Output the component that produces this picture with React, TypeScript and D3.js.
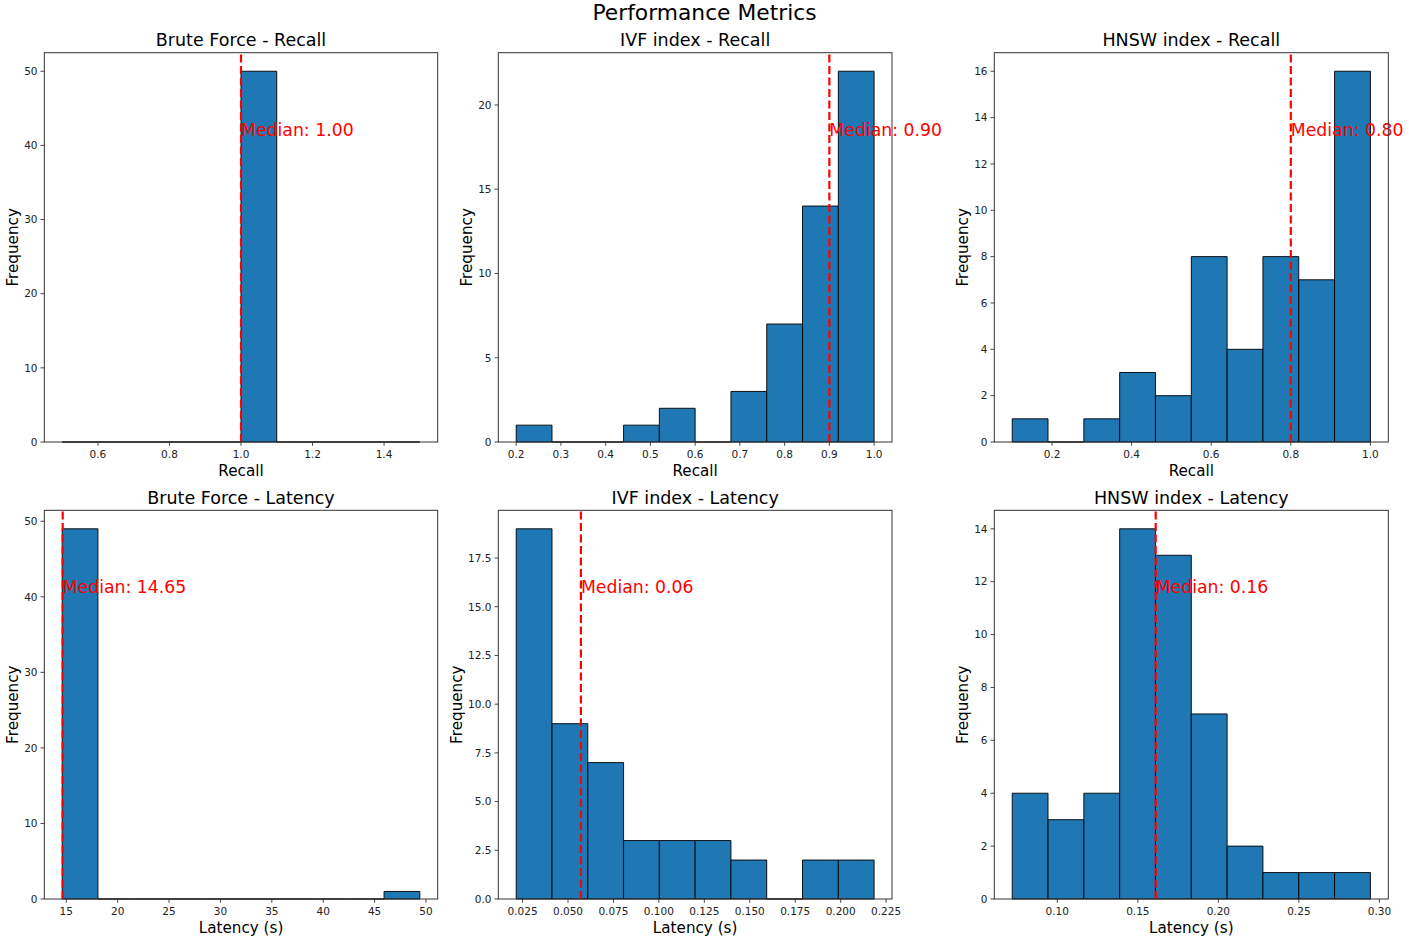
import React from "react";
import * as d3 from "d3";

// ---------- data ----------
const panelTitles = [
  "Brute Force - Recall",
  "IVF index - Recall",
  "HNSW index - Recall",
  "Brute Force - Latency",
  "IVF index - Latency",
  "HNSW index - Latency",
];
const xLabels = ["Recall", "Recall", "Recall", "Latency (s)", "Latency (s)", "Latency (s)"];

// histogram ranges (data min / max) and bin counts (10 bins each)
const bruteRecallRange = [0.5, 1.5];
const bruteRecallCounts = [0, 0, 0, 0, 0, 50, 0, 0, 0, 0];
const ivfRecallRange = [0.2, 1.0];
const ivfRecallCounts = [1, 0, 0, 1, 2, 0, 3, 7, 14, 22];
const hnswRecallRange = [0.1, 1.0];
const hnswRecallCounts = [1, 0, 1, 3, 2, 8, 4, 8, 7, 16];
const bruteLatencyRange = [14.6, 49.4];
const bruteLatencyCounts = [49, 0, 0, 0, 0, 0, 0, 0, 0, 1];
const ivfLatencyRange = [0.0215, 0.2184];
const ivfLatencyCounts = [19, 9, 7, 3, 3, 3, 2, 0, 2, 2];
const hnswLatencyRange = [0.072, 0.2944];
const hnswLatencyCounts = [4, 3, 4, 14, 13, 7, 2, 1, 1, 1];

const medians = [1.0, 0.9, 0.8, 14.65, 0.0571, 0.1611];
const medianLabels = ["Median: 1.00", "Median: 0.90", "Median: 0.80", "Median: 14.65", "Median: 0.06", "Median: 0.16"];

const xTicks = [
  [0.6, 0.8, 1.0, 1.2, 1.4],
  [0.2, 0.3, 0.4, 0.5, 0.6, 0.7, 0.8, 0.9, 1.0],
  [0.2, 0.4, 0.6, 0.8, 1.0],
  [15, 20, 25, 30, 35, 40, 45, 50],
  [0.025, 0.05, 0.075, 0.1, 0.125, 0.15, 0.175, 0.2, 0.225],
  [0.1, 0.15, 0.2, 0.25, 0.3],
];
const xTickFormats = [".1f", ".1f", ".1f", "d", ".3f", ".2f"];
const yTicks = [
  [0, 10, 20, 30, 40, 50],
  [0, 5, 10, 15, 20],
  [0, 2, 4, 6, 8, 10, 12, 14, 16],
  [0, 10, 20, 30, 40, 50],
  [0, 2.5, 5, 7.5, 10, 12.5, 15, 17.5],
  [0, 2, 4, 6, 8, 10, 12, 14],
];
const yTickFormats = ["d", "d", "d", "d", ".1f", "d"];

const ranges = [bruteRecallRange, ivfRecallRange, hnswRecallRange, bruteLatencyRange, ivfLatencyRange, hnswLatencyRange];
const counts = [bruteRecallCounts, ivfRecallCounts, hnswRecallCounts, bruteLatencyCounts, ivfLatencyCounts, hnswLatencyCounts];

// ---------- layout ----------
const W = 1409;
const H = 940;
const colLefts = [44.3, 498.3, 994.3];
const colRights = [437.7, 892, 1388.3];
const rowTops = [52.7, 510.3];
const rowBottoms = [442, 899];
const FONT = "DejaVu Sans, sans-serif";
const BAR = "#1f77b4";

function textWidth(s: string, size: number) {
  let w = 0;
  for (const ch of s) w += ch === "." ? 0.318 : 0.636;
  return w * size;
}

function Panel({ i }: { i: number }) {
  const col = i % 3;
  const row = Math.floor(i / 3);
  const left = colLefts[col];
  const right = colRights[col];
  const top = rowTops[row];
  const bottom = rowBottoms[row];
  const [mn, mx] = ranges[i];
  const c = counts[i];
  const nb = c.length;
  const edges = d3.range(nb + 1).map((k) => mn + ((mx - mn) * k) / nb);
  const pad = (mx - mn) * 0.05;
  const x = d3.scaleLinear().domain([mn - pad, mx + pad]).range([left, right]);
  const ymax = (d3.max(c) as number) * 1.05;
  const y = d3.scaleLinear().domain([0, ymax]).range([bottom, top]);
  const xf = d3.format(xTickFormats[i]);
  const yf = d3.format(yTickFormats[i]);
  const tickLen = 3.8;
  const tickFs = 10.5;
  const maxYW = d3.max(yTicks[i].map((t) => textWidth(yf(t), tickFs))) as number;
  const yLabelX = left - tickLen - 3 - maxYW - 4.5 - 7.5;
  const midY = (top + bottom) / 2;
  const mx0 = x(medians[i]);
  const textBaseline = bottom - 0.787 * (bottom - top);

  return (
    <g>
      {c.map((v, k) => {
        const x0 = x(edges[k]);
        const x1 = x(edges[k + 1]);
        const y1 = y(v);
        return (
          <path
            key={k}
            d={`M${x0},${bottom}H${x1}V${y1}H${x0}Z`}
            fill={BAR}
            stroke="#000"
            strokeWidth={0.9}
          />
        );
      })}
      <line
        x1={mx0}
        x2={mx0}
        y1={bottom}
        y2={top}
        stroke="#ff0000"
        strokeWidth={2.2}
        strokeDasharray="8,3.5"
      />
      <text x={mx0} y={textBaseline} fill="#ff0000" fontSize={17.3} fontFamily={FONT}>
        {medianLabels[i]}
      </text>
      <rect x={left} y={top} width={right - left} height={bottom - top} fill="none" stroke="#333" strokeWidth={1} />
      {xTicks[i].map((t, k) => (
        <g key={k}>
          <line x1={x(t)} x2={x(t)} y1={bottom} y2={bottom + tickLen} stroke="#333" strokeWidth={0.9} />
          <text x={x(t)} y={bottom + 16} textAnchor="middle" fontSize={tickFs} fontFamily={FONT} fill="#222">
            {xf(t)}
          </text>
        </g>
      ))}
      {yTicks[i].map((t, k) => (
        <g key={k}>
          <line x1={left - tickLen} x2={left} y1={y(t)} y2={y(t)} stroke="#333" strokeWidth={0.9} />
          <text x={left - tickLen - 3} y={y(t)} dy="0.36em" textAnchor="end" fontSize={tickFs} fontFamily={FONT} fill="#222">
            {yf(t)}
          </text>
        </g>
      ))}
      <text
        x={(left + right) / 2}
        y={top - 6.7}
        textAnchor="middle"
        fontSize={17.5}
        fontFamily={FONT}
        fill="#000"
      >
        {panelTitles[i]}
      </text>
      <text x={(left + right) / 2} y={bottom + 34} textAnchor="middle" fontSize={15.2} fontFamily={FONT} fill="#000">
        {xLabels[i]}
      </text>
      <text
        transform={`translate(${yLabelX},${midY}) rotate(-90)`}
        textAnchor="middle"
        dy="0.36em"
        fontSize={15.2}
        fontFamily={FONT}
        fill="#000"
      >
        Frequency
      </text>
    </g>
  );
}

export default function App() {
  return (
    <div style={{ position: "absolute", left: 0, top: 0 }}>
      <svg width={W} height={H} viewBox={`0 0 ${W} ${H}`} style={{ display: "block", background: "#fff" }}>
        <rect x={0} y={0} width={W} height={H} fill="#fff" />
        <text x={704.5} y={20} textAnchor="middle" fontSize={21.8} fontFamily={FONT} fill="#000">
          Performance Metrics
        </text>
        {d3.range(6).map((i) => (
          <Panel key={i} i={i} />
        ))}
      </svg>
    </div>
  );
}
